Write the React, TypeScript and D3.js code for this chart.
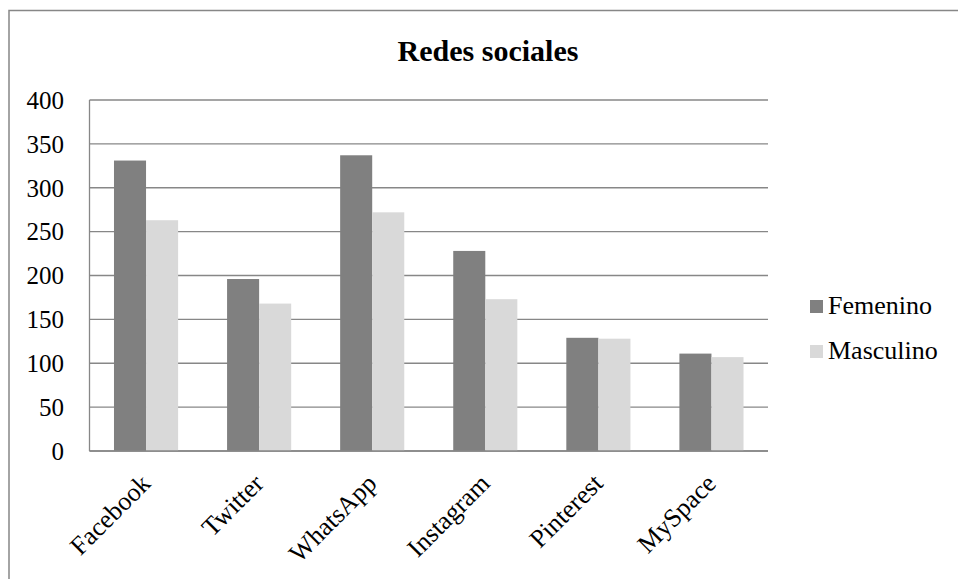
import { useEffect, useRef } from "react";
import * as d3 from "d3";

const categories = ["Facebook", "Twitter", "WhatsApp", "Instagram", "Pinterest", "MySpace"];
const femenino = [331, 196, 337, 228, 129, 111];
const masculino = [263, 168, 272, 173, 128, 107];
const series = ["Femenino", "Masculino"];
const yTicks = [0, 50, 100, 150, 200, 250, 300, 350, 400];

const App = () => {
  const svgRef = useRef<SVGSVGElement>(null);

  useEffect(() => {
    document.body.style.margin = "0";
    const svg = d3.select(svgRef.current);
    svg.selectAll("*").remove();

    const font = "'Liberation Serif', 'Times New Roman', serif";
    const gridColor = "#878787";
    const colors = ["#808080", "#d9d9d9"];

    // plot area
    const left = 89.5;
    const right = 768;
    const top = 100;
    const bottom = 451;

    // chart border
    svg.append("rect")
      .attr("x", 9)
      .attr("y", 10.5)
      .attr("width", 1000)
      .attr("height", 700)
      .attr("fill", "white")
      .attr("stroke", gridColor)
      .attr("stroke-width", 1.5);

    const x0 = d3.scaleBand()
      .domain(categories)
      .range([left, right])
      .paddingInner(0.433)
      .paddingOuter(0.2165);

    const x1 = d3.scaleBand()
      .domain(series)
      .range([0, x0.bandwidth()]);

    const y = d3.scaleLinear().domain([0, 400]).range([bottom, top]);

    // gridlines
    svg.append("g")
      .selectAll("line")
      .data(yTicks)
      .enter()
      .append("line")
      .attr("x1", left)
      .attr("x2", right)
      .attr("y1", (d) => y(d))
      .attr("y2", (d) => y(d))
      .attr("stroke", gridColor)
      .attr("stroke-width", 1.3);

    // left axis line
    svg.append("line")
      .attr("x1", left)
      .attr("x2", left)
      .attr("y1", top)
      .attr("y2", bottom)
      .attr("stroke", gridColor)
      .attr("stroke-width", 1.3);

    // y tick labels
    svg.append("g")
      .selectAll("text")
      .data(yTicks)
      .enter()
      .append("text")
      .attr("x", 64)
      .attr("y", (d) => y(d))
      .attr("dy", "0.35em")
      .attr("text-anchor", "end")
      .style("font-family", font)
      .style("font-size", "25px")
      .text((d) => d);

    // bars
    const data = categories.map((c, i) => ({ cat: c, vals: [femenino[i], masculino[i]] }));
    const groups = svg.append("g")
      .selectAll("g")
      .data(data)
      .enter()
      .append("g")
      .attr("transform", (d) => `translate(${x0(d.cat)},0)`);

    groups.selectAll("rect")
      .data((d) => d.vals.map((v, i) => ({ key: series[i], v, i })))
      .enter()
      .append("rect")
      .attr("x", (d) => x1(d.key) || 0)
      .attr("y", (d) => y(d.v))
      .attr("width", x1.bandwidth())
      .attr("height", (d) => bottom - y(d.v))
      .attr("fill", (d) => colors[d.i]);

    // bottom axis line on top of bars
    svg.append("line")
      .attr("x1", left)
      .attr("x2", right)
      .attr("y1", bottom)
      .attr("y2", bottom)
      .attr("stroke", gridColor)
      .attr("stroke-width", 1.5);

    // x labels, rotated
    svg.append("g")
      .selectAll("text")
      .data(categories)
      .enter()
      .append("text")
      .attr("transform", (d) => `translate(${(x0(d) || 0) + x0.bandwidth() / 2 + 6},485) rotate(-45)`)
      .attr("text-anchor", "end")
      .style("font-family", font)
      .style("font-size", "26px")
      .text((d) => d);

    // title
    svg.append("text")
      .attr("x", 488)
      .attr("y", 61)
      .attr("text-anchor", "middle")
      .style("font-family", font)
      .style("font-size", "30px")
      .style("font-weight", "bold")
      .text("Redes sociales");

    // legend
    const legend = svg.append("g")
      .selectAll("g")
      .data(series)
      .enter()
      .append("g")
      .attr("transform", (_d, i) => `translate(810,${314 + i * 45})`);

    legend.append("rect")
      .attr("x", 0)
      .attr("y", -14)
      .attr("width", 13)
      .attr("height", 13)
      .attr("fill", (_d, i) => colors[i]);

    legend.append("text")
      .attr("x", 18)
      .attr("y", 0)
      .style("font-family", font)
      .style("font-size", "26px")
      .text((d) => d);
  }, []);

  return <svg ref={svgRef} width={958} height={579} style={{ display: "block" }}></svg>;
};

export default App;
